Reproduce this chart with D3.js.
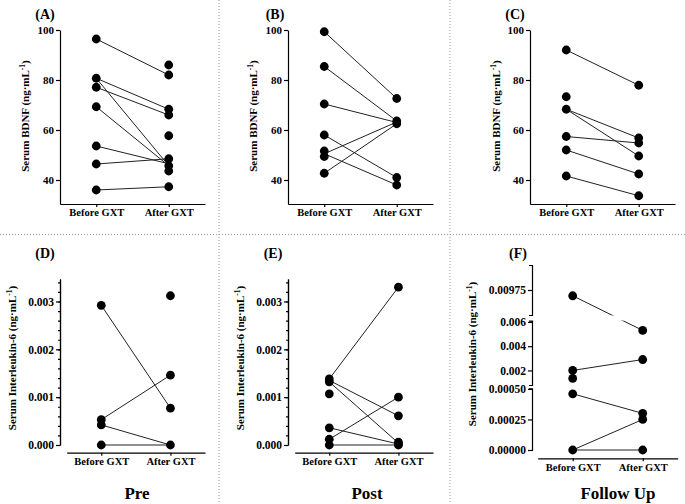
<!DOCTYPE html>
<html>
<head>
<meta charset="utf-8">
<script src="https://cdn.jsdelivr.net/npm/d3@7"></script>
<style>
body { margin: 0; background: #fff; }
svg { display: block; font-family: "Liberation Serif", "Times New Roman", serif; font-weight: bold; }
.axis path, .axis line { stroke: #000; stroke-width: 1.2px; }
.axis text { font-family: "Liberation Serif", serif; font-weight: bold; fill: #000; }
.link { stroke: #222; stroke-width: 1px; fill: none; }
.dot { fill: #000; }
</style>
</head>
<body>
<div id="chart"></div>
<script>
var groups = ["Before GXT", "After GXT"];
var bdnfTicks = [40, 60, 80, 100];
var il6Ticks = [0, 0.001, 0.002, 0.003];
var il6Minor = d3.range(0, 0.00345, 0.0002);

// (A) Pre - BDNF
var beforeA = [96.4, 80.7, 77.1, 69.3, 53.6, 46.4, 36];
var afterA = [86, 82, 68.3, 66, 57.7, 48.5, 45.7, 43.6, 37.3];
var linksA = [[96.4, 82], [80.7, 68.3], [80.7, 45.7], [77.1, 66], [69.3, 45.7], [53.6, 46.5], [46.4, 48.5], [36, 37.3]];

// (B) Post - BDNF
var beforeB = [99.3, 85.4, 70.4, 58, 51.6, 49.4, 42.7];
var afterB = [72.6, 63.6, 62.5, 41, 38];
var linksB = [[99.3, 72.6], [85.4, 63.6], [70.4, 63], [58, 41], [50.5, 38], [50.5, 63.2], [42.7, 62.5]];

// (C) Follow up - BDNF
var beforeC = [92, 73.3, 68.3, 57.4, 52, 41.6];
var afterC = [77.9, 56.8, 54.8, 49.6, 42.4, 33.7];
var linksC = [[92, 77.9], [68.3, 56.8], [68.3, 49.6], [57.4, 54.8], [52, 42.4], [41.6, 33.7]];

// (D) Pre - IL-6
var beforeD = [0.00292, 0.00053, 0.00042, 0];
var afterD = [0.00312, 0.00146, 0.00077, 0];
var linksD = [[0.00292, 0.00077], [0.00053, 0.00146], [0.00042, 0], [0, 0]];

// (E) Post - IL-6
var beforeE = [0.00138, 0.00132, 0.00107, 0.00036, 0.00012, 0];
var afterE = [0.0033, 0.001, 0.00061, 0.00006, 0.00002, 0];
var linksE = [[0.00138, 0.0033], [0.00135, 0.00061], [0.00132, 0.00004], [0.00036, 0.00002], [0.00012, 0.001], [0, 0]];

// (F) Follow up - IL-6 (broken axis)
var beforeF = [0.0096, 0.002, 0.00134, 0.00046, 0];
var afterF = [0.0053, 0.0029, 0.0003, 0.00025, 0];
var linksF = [[0.0096, 0.0053], [0.002, 0.0029], [0.00046, 0.0003], [0, 0.00025], [0, 0]];
var fTicksLow = [0, 0.00025, 0.0005];
var fTicksMid = [0.002, 0.004, 0.006];
var fTicksTop = [0.00975];

var svg = d3.select("#chart").append("svg")
    .attr("width", 685)
    .attr("height", 504);

// dotted separators
[[219, 0, 219, 504], [450, 0, 450, 504], [0, 234.5, 685, 234.5]].forEach(function(l){
    svg.append("line")
        .attr("x1", l[0]).attr("y1", l[1]).attr("x2", l[2]).attr("y2", l[3])
        .style("stroke", "#9a9a9a")
        .style("stroke-width", "1px")
        .style("stroke-dasharray", "1,2");
});

function yTitle(g, text, x, y) {
    var t = g.append("text")
        .attr("transform", "translate(" + x + "," + y + ") rotate(-90)")
        .attr("text-anchor", "middle")
        .style("font-size", "11px");
    t.append("tspan").text(text + " (ng\u00b7mL");
    t.append("tspan").attr("dy", -4).style("font-size", "7.5px").text("-1");
    t.append("tspan").attr("dy", 4).text(")");
}

function drawPanel(p) {
    var g = svg.append("g");
    var x = d3.scalePoint().domain(groups).range(p.xRange).padding(0.5);

    g.append("g")
        .attr("class", "axis")
        .attr("transform", "translate(0," + p.xAxisY + ")")
        .call(d3.axisBottom(x).tickSize(3).tickSizeOuter(0).tickPadding(2))
        .selectAll("text").style("font-size", "10.5px");

    p.drawY(g);

    g.selectAll(".link").data(p.links).enter().append("line")
        .attr("class", "link")
        .attr("x1", x(groups[0]))
        .attr("x2", x(groups[1]))
        .attr("y1", function(d){ return p.y(d[0]); })
        .attr("y2", function(d){ return p.y(d[1]); });

    if (p.after) p.after(g);

    var dots = p.before.map(function(v){ return [groups[0], v]; })
        .concat(p.afterVals.map(function(v){ return [groups[1], v]; }));
    g.selectAll(".dot").data(dots).enter().append("circle")
        .attr("class", "dot")
        .attr("cx", function(d){ return x(d[0]); })
        .attr("cy", function(d){ return p.y(d[1]); })
        .attr("r", 4.4);

    g.append("text")
        .attr("x", p.label[1]).attr("y", p.label[2])
        .attr("text-anchor", "middle")
        .style("font-size", "14px")
        .text(p.label[0]);

    yTitle(g, p.title, p.titleX, p.titleY);

    if (p.sub) {
        g.append("text")
            .attr("x", p.sub[1]).attr("y", 499)
            .attr("text-anchor", "middle")
            .style("font-size", "17px")
            .text(p.sub[0]);
    }
}

// top row
var yTop = d3.scaleLinear().domain([30.4, 100]).range([204, 30]);
function topAxis(ax) {
    return function(g) {
        g.append("g")
            .attr("class", "axis")
            .attr("transform", "translate(" + ax + ",0)")
            .call(d3.axisLeft(yTop).tickValues(bdnfTicks).tickSize(4).tickSizeOuter(0).tickPadding(2))
            .selectAll("text").style("font-size", "11px");
    };
}
[
    {ax: 60, before: beforeA, afterVals: afterA, links: linksA, label: ["(A)", 45, 19], titleX: 29},
    {ax: 288, before: beforeB, afterVals: afterB, links: linksB, label: ["(B)", 275, 19], titleX: 257},
    {ax: 530, before: beforeC, afterVals: afterC, links: linksC, label: ["(C)", 515, 19], titleX: 500}
].forEach(function(p){
    p.xRange = [p.ax, p.ax + 145];
    p.xAxisY = 204;
    p.y = yTop;
    p.drawY = topAxis(p.ax);
    p.title = "Serum BDNF";
    p.titleY = 116;
    drawPanel(p);
});

// bottom row D, E
var yIl6 = d3.scaleLinear().domain([0, 0.00347]).range([445, 279]);
function il6Axis(ax) {
    return function(g) {
        g.append("g")
            .attr("class", "axis")
            .attr("transform", "translate(" + ax + ",0)")
            .call(d3.axisLeft(yIl6).tickValues(il6Minor).tickSize(2).tickSizeOuter(0).tickFormat(""));
        g.append("g")
            .attr("class", "axis")
            .attr("transform", "translate(" + ax + ",0)")
            .call(d3.axisLeft(yIl6).tickValues(il6Ticks).tickSize(4).tickSizeOuter(0).tickPadding(2).tickFormat(d3.format(".3f")))
            .selectAll("text").style("font-size", "11.5px");
    };
}
[
    {ax: 60, before: beforeD, afterVals: afterD, links: linksD, label: ["(D)", 45, 258], titleX: 16, sub: ["Pre", 137]},
    {ax: 288, before: beforeE, afterVals: afterE, links: linksE, label: ["(E)", 273, 258], titleX: 244, sub: ["Post", 367]}
].forEach(function(p){
    p.xRange = [p.ax + 6.7, p.ax + 145];
    p.xAxisY = 452.7;
    p.y = yIl6;
    p.drawY = il6Axis(p.ax);
    p.title = "Serum Interleukin-6";
    p.titleY = 358;
    drawPanel(p);
});

// panel F with broken axis
var fSegs = [
    {scale: d3.scaleLinear().domain([0, 0.000505]).range([450, 388.3]), ticks: fTicksLow, fmt: d3.format(".5f")},
    {scale: d3.scaleLinear().domain([0.0008, 0.0061]).range([385, 320.7]), ticks: fTicksMid, fmt: d3.format(".3f")},
    {scale: d3.scaleLinear().domain([0.0091, 0.0104]).range([315, 265]), ticks: fTicksTop, fmt: d3.format(".5f")}
];
function yF(v) {
    var s = fSegs.find(function(s){ return v <= s.scale.domain()[1]; }) || fSegs[2];
    return s.scale(v);
}
drawPanel({
    xRange: [537.7, 677.7],
    xAxisY: 458.3,
    y: yF,
    before: beforeF, afterVals: afterF, links: linksF,
    label: ["(F)", 518, 258],
    title: "Serum Interleukin-6", titleX: 476, titleY: 354,
    sub: ["Follow Up", 618],
    drawY: function(g) {
        fSegs.forEach(function(s){
            g.append("g")
                .attr("class", "axis")
                .attr("transform", "translate(532,0)")
                .call(d3.axisLeft(s.scale).tickValues(s.ticks).tickSize(4).tickSizeOuter(3).tickPadding(2).tickFormat(s.fmt))
                .selectAll("text").style("font-size", "11.5px");
        });
    },
    after: function(g) {
        // gap where a line crosses the axis break
        g.append("rect").attr("x", 534).attr("y", 315.5).attr("width", 146).attr("height", 5)
            .style("fill", "#fff");
    }
});
</script>
</body>
</html>
